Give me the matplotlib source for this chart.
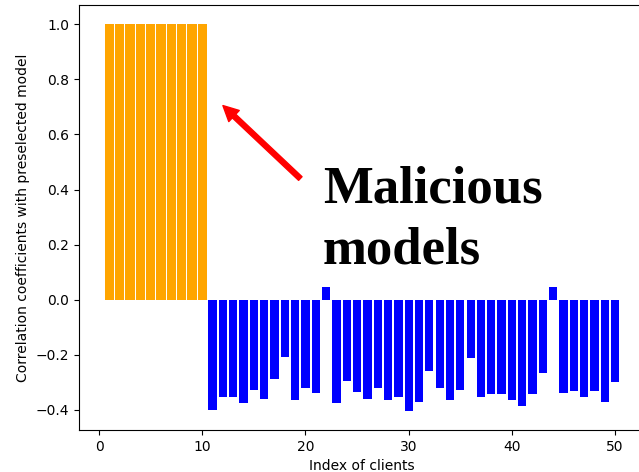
import matplotlib
matplotlib.use("Agg")
import matplotlib.pyplot as plt

# client indices 1..50, first ten are the malicious ones
clients = list(range(1, 51))
malicious_idx = clients[:10]
malicious_corr = [1.0] * 10
benign_idx = clients[10:]
benign_corr = [-0.402, -0.352, -0.355, -0.375, -0.327, -0.359, -0.287, -0.209, -0.366, -0.319,
               -0.338, 0.045, -0.375, -0.294, -0.335, -0.359, -0.322, -0.366, -0.355, -0.403,
               -0.370, -0.258, -0.322, -0.364, -0.327, -0.210, -0.352, -0.344, -0.344, -0.366,
               -0.387, -0.343, -0.266, 0.045, -0.338, -0.331, -0.352, -0.331, -0.370, -0.298]

fig = plt.figure(figsize=(6.39, 4.72), dpi=100)
ax = fig.add_axes([79 / 639, 42 / 472, 566 / 639, 425 / 472])

ax.bar(malicious_idx, malicious_corr, width=0.9, color='orange')
ax.bar(benign_idx, benign_corr, width=0.8, color='blue')

ax.set_xlabel("Index of clients")
ax.set_ylabel("Correlation coefficients with preselected model")

ax.annotate("", xy=(12.0, 0.705), xytext=(19.5, 0.44),
            arrowprops=dict(facecolor='red', edgecolor='red', width=3.6,
                            headwidth=11, headlength=11))
ax.text(21.7, 0.13, "Malicious\nmodels", fontsize=38, fontweight='bold',
        family='Liberation Serif', linespacing=1.35, va='baseline', ha='left')

fig.savefig("out.png", dpi=100)
